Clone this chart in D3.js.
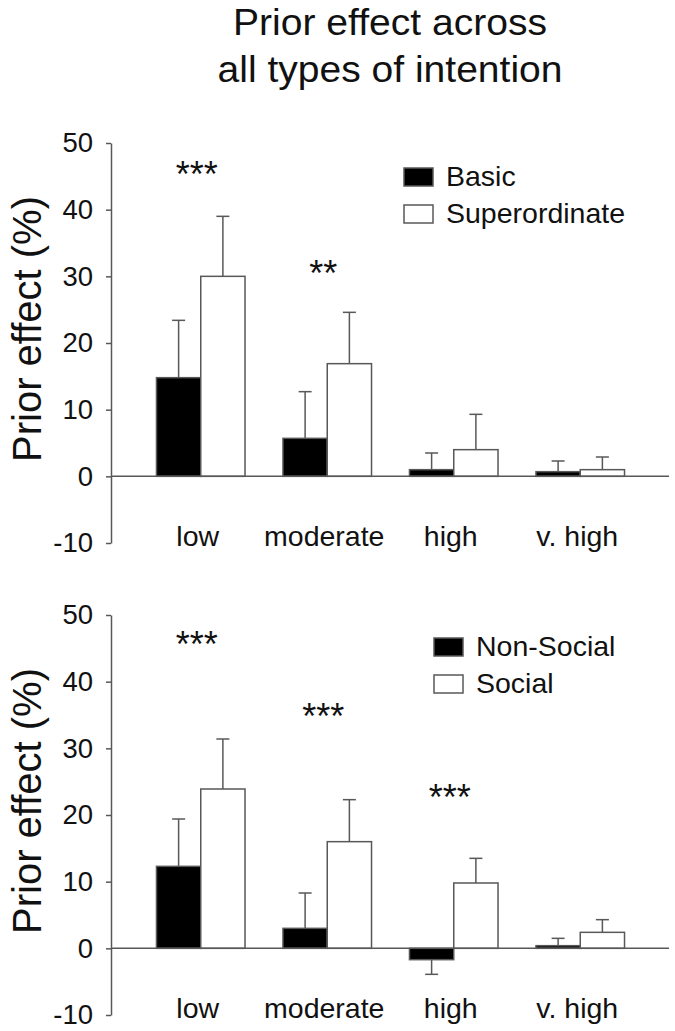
<!DOCTYPE html>
<html>
<head>
<meta charset="utf-8">
<script src="https://cdn.jsdelivr.net/npm/d3@7"></script>
<style>
  html, body { margin: 0; padding: 0; background: #fff; }
  svg { display: block; font-family: "Liberation Sans", Arial, sans-serif; }
</style>
</head>
<body>
<svg id="chart" width="675" height="1031"></svg>
<script>
// categories and tick labels
const categories = ["low", "moderate", "high", "v. high"];
const yTicks = [-10, 0, 10, 20, 30, 40, 50];
const titleLines = ["Prior effect across", "all types of intention"];
const titleWidths = [314, 345];

// top panel: basic vs superordinate (mean, error)
const topSeries = ["Basic", "Superordinate"];
const basicMean = [14.8, 5.7, 1.0, 0.7];
const basicErr = [8.6, 7.0, 2.5, 1.6];
const superMean = [30.0, 16.9, 4.0, 1.0];
const superErr = [9.0, 7.7, 5.3, 1.9];
const topStars = [
  {cat: "low", label: "***", level: 46.6},
  {cat: "moderate", label: "**", level: 31.7}
];

// bottom panel: non-social vs social
const bottomSeries = ["Non-Social", "Social"];
const nonSocialMean = [12.3, 3.0, -1.7, 0.4];
const nonSocialErr = [7.1, 5.3, 2.2, 1.1];
const socialMean = [23.9, 16.0, 9.8, 2.4];
const socialErr = [7.5, 6.3, 3.7, 1.9];
const bottomStars = [
  {cat: "low", label: "***", level: 46.8},
  {cat: "moderate", label: "***", level: 36.1},
  {cat: "high", label: "***", level: 23.9}
];

const svg = d3.select("#chart");
const ink = "#585858";

svg.append("g")
  .selectAll("text")
  .data(titleLines)
  .join("text")
  .attr("x", 390)
  .attr("y", (d, i) => 35 + i * 47)
  .attr("text-anchor", "middle")
  .attr("font-size", 36)
  .attr("textLength", (d, i) => titleWidths[i])
  .attr("lengthAdjust", "spacingAndGlyphs")
  .attr("fill", "#111")
  .text(d => d);

const x = d3.scaleBand().domain(categories).range([137.5, 643.5]).paddingInner(0.3).paddingOuter(0.15);
const sub = d3.scaleBand().domain([0, 1]).range([0, x.bandwidth()]);

function drawPanel(top, series, means, errs, stars, legendX, legendY) {
  const y = d3.scaleLinear().domain([-10, 50]).range([top + 400, top]);
  const g = svg.append("g");

  // y axis
  const yAxis = g.append("g")
    .attr("transform", "translate(111,0)")
    .call(d3.axisLeft(y).tickValues(yTicks).tickFormat(d => String(d))
      .tickSize(5).tickSizeOuter(0).tickPadding(13));
  yAxis.select(".domain").attr("stroke", ink).attr("stroke-width", 1.5);
  yAxis.selectAll(".tick line").attr("stroke", ink).attr("stroke-width", 1.5);
  yAxis.selectAll(".tick text")
    .attr("font-size", 27.5)
    .attr("font-family", "Liberation Sans, Arial, sans-serif")
    .attr("fill", "#111");

  g.append("text")
    .attr("transform", `translate(41,${(y(-10) + y(50)) / 2 - 14}) rotate(-90)`)
    .attr("text-anchor", "middle")
    .attr("font-size", 40)
    .attr("fill", "#111")
    .text("Prior effect (%)");

  // bars
  const rows = [];
  categories.forEach((c, i) => {
    means.forEach((m, s) => rows.push({cat: c, s, mean: m[i], err: errs[s][i]}));
  });

  const bars = g.append("g");
  bars.selectAll("rect")
    .data(rows)
    .join("rect")
    .attr("x", d => x(d.cat) + sub(d.s))
    .attr("width", sub.bandwidth())
    .attr("y", d => y(Math.max(0, d.mean)))
    .attr("height", d => Math.abs(y(d.mean) - y(0)))
    .attr("fill", d => (d.s === 0 ? "#000" : "#fff"))
    .attr("stroke", ink)
    .attr("stroke-width", 1.5);

  // error bars (one-sided, away from zero)
  const capW = 13;
  const eb = g.append("g").attr("stroke", ink).attr("stroke-width", 1.5);
  rows.forEach(d => {
    const cx = x(d.cat) + sub(d.s) + sub.bandwidth() / 2;
    const end = d.mean >= 0 ? d.mean + d.err : d.mean - d.err;
    eb.append("line").attr("x1", cx).attr("x2", cx).attr("y1", y(d.mean)).attr("y2", y(end));
    eb.append("line").attr("x1", cx - capW / 2).attr("x2", cx + capW / 2).attr("y1", y(end)).attr("y2", y(end));
  });

  // zero line
  g.append("line")
    .attr("x1", 111).attr("x2", 669)
    .attr("y1", y(0)).attr("y2", y(0))
    .attr("stroke", ink).attr("stroke-width", 1.5);

  // category labels
  g.append("g")
    .selectAll("text")
    .data(categories)
    .join("text")
    .attr("x", d => x(d) + x.bandwidth() / 2 - 3)
    .attr("y", y(-10) + 3)
    .attr("text-anchor", "middle")
    .attr("font-size", 28.5)
    .attr("fill", "#111")
    .text(d => d);

  // significance stars
  g.append("g")
    .selectAll("text")
    .data(stars)
    .join("text")
    .attr("x", d => x(d.cat) + x.bandwidth() / 2 - 4)
    .attr("y", d => y(d.level) + 21)
    .attr("text-anchor", "middle")
    .attr("font-size", 36)
    .attr("fill", "#111")
    .text(d => d.label);

  // legend
  const lg = g.append("g").attr("transform", `translate(${legendX},${legendY})`);
  series.forEach((name, i) => {
    lg.append("rect")
      .attr("x", 0).attr("y", i * 37)
      .attr("width", 29).attr("height", 18)
      .attr("fill", i === 0 ? "#000" : "#fff")
      .attr("stroke", ink).attr("stroke-width", 1.5);
    lg.append("text")
      .attr("x", 42).attr("y", i * 37 + 18)
      .attr("font-size", 28.5)
      .attr("fill", "#111")
      .text(name);
  });
}

drawPanel(143, topSeries, [basicMean, superMean], [basicErr, superErr], topStars, 404, 168);
drawPanel(615, bottomSeries, [nonSocialMean, socialMean], [nonSocialErr, socialErr], bottomStars, 434, 638);
</script>
</body>
</html>
